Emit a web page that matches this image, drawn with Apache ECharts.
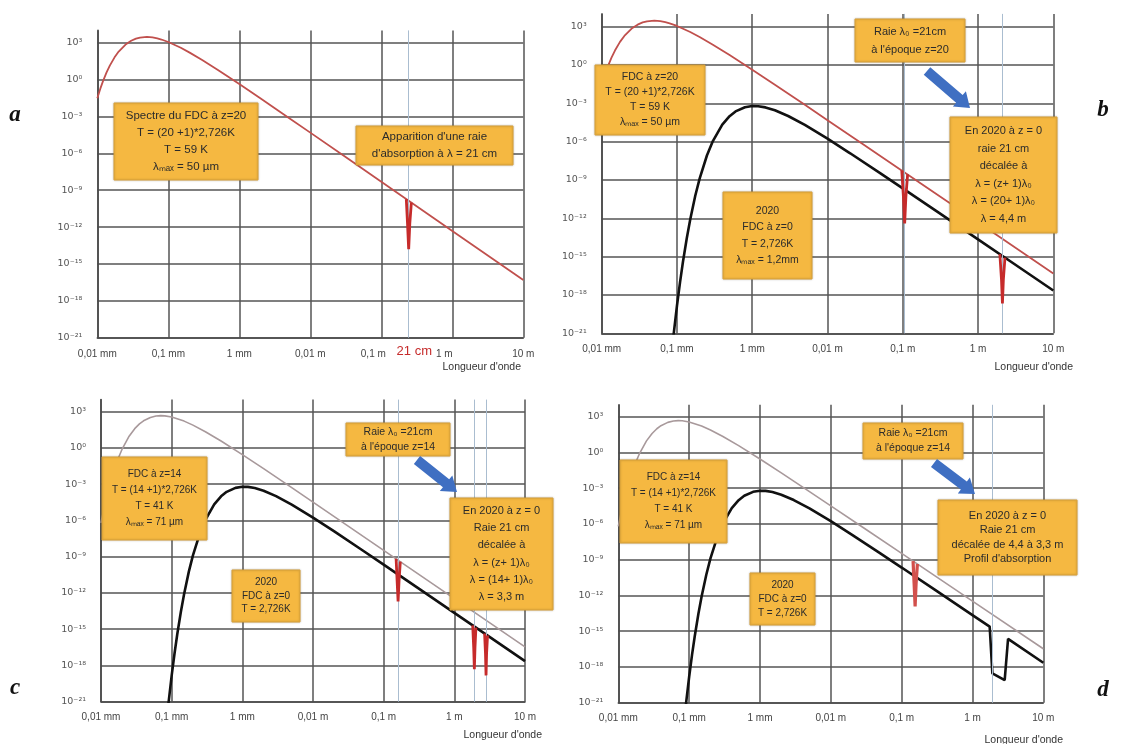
<!DOCTYPE html>
<html>
<head>
<meta charset="utf-8">
<script src="https://cdn.jsdelivr.net/npm/echarts@6/dist/echarts.min.js"></script>
<style>html,body{margin:0;padding:0;background:#fff}#chart{width:1129px;height:744px}</style>
</head>
<body>
<div id="chart"></div>
<script>
// ---------- DATA (wavelength in m, spectral radiance) ----------
const xTickLabels = ['0,01 mm', '0,1 mm', '1 mm', '0,01 m', '0,1 m', '1 m', '10 m']; // 10^-5 .. 10^1 m
const yTickLabels = ['10⁻²¹', '10⁻¹⁸', '10⁻¹⁵', '10⁻¹²', '10⁻⁹', '10⁻⁶', '10⁻³', '10⁰', '10³']; // every 3 decades

// FDC at z=20 (T = 59 K)
const lambdaZ20 = [1e-5, 1.1e-5, 1.2e-5, 1.35e-5, 1.5e-5, 1.75e-5, 2e-5, 2.5e-5, 3e-5, 3.5e-5, 4e-5, 5e-5, 6e-5, 7e-5, 8e-5, 1e-4, 1.5e-4, 2e-4, 3e-4, 5e-4, 1e-3, 2e-3, 5e-3, 1e-2, 3e-2, 0.1, 1, 10];
const fdcZ20 = [0.0305, 0.174, 0.714, 3.79, 13.6, 64.4, 189, 708, 1445, 2143, 2624, 2924, 2673, 2244, 1811, 1140, 384, 156, 39.1, 6.07, 0.431, 0.0287, 7.62e-4, 4.83e-5, 6.0e-7, 4.88e-9, 4.89e-13, 4.89e-17];

// FDC at z=14 (T = 41 K)
const lambdaZ14 = [1e-5, 1.1e-5, 1.2e-5, 1.35e-5, 1.5e-5, 1.75e-5, 2e-5, 2.5e-5, 3e-5, 3.5e-5, 4e-5, 5e-5, 6e-5, 7e-5, 8e-5, 1e-4, 1.5e-4, 2e-4, 3e-4, 5e-4, 1e-3, 2e-3, 5e-3, 1e-2, 3e-2, 0.1, 1, 10];
const fdcZ14 = [6.24e-7, 9.48e-6, 8.83e-5, 1.27e-3, 0.0102, 0.135, 0.851, 9.40, 39.4, 97.7, 176, 335, 436, 468, 453, 364, 166, 77.4, 22.0, 3.73, 0.282, 0.0194, 5.22e-4, 3.33e-5, 4.15e-7, 3.38e-9, 3.39e-13, 3.39e-17];

// FDC today z=0 (T = 2,726 K)
const lambdaZ0 = [9e-5, 1e-4, 1.1e-4, 1.2e-4, 1.35e-4, 1.5e-4, 1.75e-4, 2e-4, 2.5e-4, 3e-4, 4e-4, 5e-4, 6e-4, 8e-4, 1e-3, 1.2e-3, 1.5e-3, 2e-3, 3e-3, 5e-3, 1e-2, 2e-2, 5e-2, 0.1, 0.3, 1, 3, 10];
const fdcZ0 = [6.85e-22, 1.43e-19, 1.07e-17, 3.78e-16, 2.79e-14, 8.22e-13, 5.79e-11, 1.29e-9, 8.26e-8, 1.12e-6, 2.16e-5, 9.93e-5, 2.32e-4, 4.97e-4, 6.11e-4, 5.96e-4, 4.80e-4, 2.86e-4, 1.02e-4, 2.03e-5, 1.71e-6, 1.23e-7, 3.42e-9, 2.20e-10, 2.76e-12, 2.25e-14, 2.78e-16, 2.25e-18];

// FDC today with the absorption profile (panel d)
const lambdaZ0Profile = [9e-5, 1e-4, 1.1e-4, 1.2e-4, 1.35e-4, 1.5e-4, 1.75e-4, 2e-4, 2.5e-4, 3e-4, 4e-4, 5e-4, 6e-4, 8e-4, 1e-3, 1.2e-3, 1.5e-3, 2e-3, 3e-3, 5e-3, 1e-2, 2e-2, 5e-2, 0.1, 0.3, 1, 1.75, 1.91, 2.85, 3.18, 10];
const fdcZ0Profile = [6.85e-22, 1.43e-19, 1.07e-17, 3.78e-16, 2.79e-14, 8.22e-13, 5.79e-11, 1.29e-9, 8.26e-8, 1.12e-6, 2.16e-5, 9.93e-5, 2.32e-4, 4.97e-4, 6.11e-4, 5.96e-4, 4.80e-4, 2.86e-4, 1.02e-4, 2.03e-5, 1.71e-6, 1.23e-7, 3.42e-9, 2.20e-10, 2.76e-12, 2.25e-14, 2.40e-15, 2.9e-19, 7.9e-20, 2.24e-16, 2.25e-18];

// absorption lines [wavelength, radiance]
const dipA = [[0.225, 1.9e-10], [0.234, 2e-12], [0.243, 1.6e-14], [0.252, 2e-12], [0.265, 9.9e-11]];
const dipB1 = [[0.097, 5.5e-9], [0.102, 5e-11], [0.106, 4e-13], [0.110, 5e-11], [0.116, 2.7e-9]];
const dipB2 = [[1.95, 1.56e-15], [2.05, 1.6e-17], [2.11, 2.2e-19], [2.17, 1.6e-17], [2.28, 8.3e-16]];
const dipC1 = [[0.15, 6.7e-10], [0.155, 1e-11], [0.16, 2e-13], [0.165, 1e-11], [0.172, 3.9e-10]];
const dipC2 = [[1.82, 2.06e-15], [1.88, 3e-17], [1.92, 5e-19], [1.96, 3e-17], [2.02, 1.35e-15]];
const dipC3 = [[2.68, 4.37e-16], [2.76, 1e-17], [2.81, 1.5e-19], [2.86, 1e-17], [2.95, 2.98e-16]];
const dipD1 = [[0.145, 7.66e-10], [0.15, 1e-11], [0.155, 1.2e-13], [0.16, 1e-11], [0.167, 4.35e-10]];
const line21cm = 0.24;
const guidesB = [0.105, 2.11];
const guidesC = [0.16, 1.92, 2.81];
const guidesD = [1.92];

// ---------- BUILD ----------
const lg = Math.log10;
const curve = (ls, vs) => ls.map((l, i) => [lg(l), lg(vs[i])]);
const pairs = (p) => p.map(d => [lg(d[0]), lg(d[1])]);

const grids = [
  {left: 97.3, top: 30.4, width: 426, height: 307.3},
  {left: 601.7, top: 13.9, width: 451.6, height: 319.4},
  {left: 101, top: 399.6, width: 424, height: 302.1},
  {left: 618.3, top: 404.8, width: 425, height: 297.9}
];
const gridColor = '#555';
const xLabelRich = {
  n: {fontSize: 10, color: '#444', fontFamily: 'Liberation Sans'},
  l: {fontSize: 10, color: '#444', fontFamily: 'Liberation Sans', padding: [0, 16, 0, 0]}
};
const xAxes = grids.map((g, i) => ({
  type: 'value', gridIndex: i, min: -5, max: 1, interval: 1,
  axisLine: {show: true, onZero: false, lineStyle: {color: '#4a4a4a', width: 1.6}},
  axisTick: {show: false},
  splitLine: {show: true, lineStyle: {color: gridColor, width: 1.5}},
  axisLabel: {
    fontSize: 10, color: '#444', margin: i === 0 ? 12 : 11, fontFamily: 'Liberation Sans',
    showMinLabel: true, showMaxLabel: true, rich: xLabelRich,
    formatter: v => {
      const r = Math.round(v);
      if (Math.abs(v - r) > 1e-6) return '';
      const t = xTickLabels[r + 5] || '';
      // panel a: labels around the 21 cm mark are pushed aside
      if (i === 0 && (r === -1 || r === 0)) return '{l|' + t + '}';
      return '{n|' + t + '}';
    }
  }
}));
const yColors = [gridColor, gridColor, gridColor, gridColor, gridColor, gridColor, gridColor, gridColor, gridColor, 'rgba(0,0,0,0)'];
const yAxes = grids.map((g, i) => ({
  type: 'value', gridIndex: i, min: -21, max: 4, interval: 3,
  axisLine: {show: true, onZero: false, lineStyle: {color: '#4a4a4a', width: 1.6}},
  axisTick: {show: false},
  splitLine: {show: true, showMaxLine: false, lineStyle: {color: yColors, width: 1.5}},
  axisLabel: {
    fontSize: 9.5, color: '#555', margin: 15, fontFamily: 'DejaVu Sans',
    formatter: v => { if (v > 3.5) return ''; const k = (v + 21) / 3; return Math.abs(k - Math.round(k)) < 1e-6 ? (yTickLabels[Math.round(k)] || '') : ''; }
  }
}));

const RED = '#C0504D', GRAY = '#A8999B', BLACK = '#111', DIP = '#C62B2B', GUIDE = '#aabdd0';
function lineSeries(i, data, color, width, z, extra) {
  return Object.assign({
    type: 'line', xAxisIndex: i, yAxisIndex: i, data: data, showSymbol: false, symbol: 'none',
    smooth: false, silent: true, z: z, animation: false,
    lineStyle: {color: color, width: width}
  }, extra || {});
}
function guides(vals) {
  return {
    silent: true, symbol: ['none', 'none'], animation: false,
    lineStyle: {color: GUIDE, width: 1, type: 'solid'},
    label: {show: false},
    data: vals.map(v => ({xAxis: lg(v)}))
  };
}
const mlA = guides([line21cm]);
mlA.label = {show: true, position: 'start', formatter: '21 cm', color: '#C62B2B', fontSize: 13, distance: 7,
             padding: [0, 0, 0, 12], fontFamily: 'Liberation Sans'};

const series = [
  // panel a
  lineSeries(0, curve(lambdaZ20, fdcZ20), RED, 1.8, 3, {markLine: mlA}),
  lineSeries(0, pairs(dipA), DIP, 2.8, 5),
  // panel b
  lineSeries(1, curve(lambdaZ20, fdcZ20), RED, 1.8, 3, {markLine: guides(guidesB)}),
  lineSeries(1, curve(lambdaZ0, fdcZ0), BLACK, 2.6, 4),
  lineSeries(1, pairs(dipB1), DIP, 2.8, 5),
  lineSeries(1, pairs(dipB2), DIP, 2.8, 5),
  // panel c
  lineSeries(2, curve(lambdaZ14, fdcZ14), GRAY, 1.6, 3, {markLine: guides(guidesC)}),
  lineSeries(2, curve(lambdaZ0, fdcZ0), BLACK, 2.6, 4),
  lineSeries(2, pairs(dipC1), DIP, 2.8, 5),
  lineSeries(2, pairs(dipC2), DIP, 2.8, 5),
  lineSeries(2, pairs(dipC3), DIP, 2.8, 5),
  // panel d
  lineSeries(3, curve(lambdaZ14, fdcZ14), GRAY, 1.6, 3, {markLine: guides(guidesD)}),
  lineSeries(3, curve(lambdaZ0Profile, fdcZ0Profile), BLACK, 2.6, 4),
  lineSeries(3, pairs(dipD1), '#D2504C', 3.2, 5)
];

// ---------- ANNOTATIONS ----------
const BOX_FILL = '#F5B841', BOX_STROKE = '#DDA43A';
function box(x, y, w, h, text, fs, lh) {
  return [
    {type: 'rect', z: 100, shape: {x: x, y: y, width: w, height: h},
     style: {fill: BOX_FILL, stroke: BOX_STROKE, lineWidth: 1, shadowBlur: 2, shadowColor: 'rgba(0,0,0,0.25)'}},
    {type: 'text', z: 101, x: x + w / 2, y: y + h / 2,
     style: {text: text, fill: '#2b2b2b', font: fs + 'px "Liberation Sans"', fontSize: fs, fontFamily: 'Liberation Sans',
             lineHeight: lh, align: 'center', textAlign: 'center', verticalAlign: 'middle', textVerticalAlign: 'middle'}}
  ];
}
function arrow(x1, y1, x2, y2, sw, hw, hl) {
  const dx = x2 - x1, dy = y2 - y1, L = Math.hypot(dx, dy), ux = dx / L, uy = dy / L, nx = -uy, ny = ux;
  const bx = x2 - ux * hl, by = y2 - uy * hl;
  return {type: 'polygon', z: 100, shape: {points: [
    [x1 + nx * sw / 2, y1 + ny * sw / 2], [bx + nx * sw / 2, by + ny * sw / 2], [bx + nx * hw / 2, by + ny * hw / 2],
    [x2, y2], [bx - nx * hw / 2, by - ny * hw / 2], [bx - nx * sw / 2, by - ny * sw / 2], [x1 - nx * sw / 2, y1 - ny * sw / 2]]},
    style: {fill: '#3F6FC2'}};
}
function label(x, y, text, font, color, align) {
  return {type: 'text', z: 101, x: x, y: y,
    style: {text: text, font: font, fill: color || '#222', align: align || 'center', textAlign: align || 'center',
            verticalAlign: 'middle', textVerticalAlign: 'middle'}};
}
const graphics = [].concat(
  box(114, 103, 144, 77, 'Spectre du FDC à z=20\nT = (20 +1)*2,726K\nT = 59 K\nλₘₐₓ = 50 µm', 11.5, 17),
  box(356, 126, 157, 39, "Apparition d'une raie\nd'absorption à λ = 21 cm", 11.5, 17),
  box(595, 65, 110, 70, 'FDC à z=20\nT = (20 +1)*2,726K\nT = 59 K\nλₘₐₓ = 50 µm', 10.5, 15),
  box(855, 19, 110, 43, "Raie λ₀ =21cm\nà l'époque z=20", 11, 18),
  box(723, 192, 89, 87, '2020\nFDC à z=0\nT = 2,726K\nλₘₐₓ = 1,2mm', 10.5, 16.5),
  box(950, 117, 107, 116, 'En 2020 à z = 0\nraie 21 cm\ndécalée à\nλ = (z+ 1)λ₀\nλ = (20+ 1)λ₀\nλ = 4,4 m', 11, 17.5),
  box(102, 457, 105, 83, 'FDC à z=14\nT = (14 +1)*2,726K\nT = 41 K\nλₘₐₓ = 71 µm', 10, 16),
  box(346, 423, 104, 33, "Raie λ₀ =21cm\nà l'époque z=14", 10.5, 15.5),
  box(232, 570, 68, 52, '2020\nFDC à z=0\nT = 2,726K', 10, 13.5),
  box(450, 498, 103, 112, 'En 2020 à z = 0\nRaie 21 cm\ndécalée à\nλ = (z+ 1)λ₀\nλ = (14+ 1)λ₀\nλ = 3,3 m', 11, 17.3),
  box(620, 460, 107, 83, 'FDC à z=14\nT = (14 +1)*2,726K\nT = 41 K\nλₘₐₓ = 71 µm', 10, 16),
  box(863, 423, 100, 36, "Raie λ₀ =21cm\nà l'époque z=14", 10.5, 15),
  box(750, 573, 65, 52, '2020\nFDC à z=0\nT = 2,726K', 10, 14),
  box(938, 500, 139, 75, 'En 2020 à z = 0\nRaie 21 cm\ndécalée de 4,4 à 3,3 m\nProfil d\'absorption', 11, 14.5),
  [arrow(927, 71, 970, 108, 10, 20, 14), arrow(417, 460, 457, 492, 10, 20, 14), arrow(934, 463, 975, 494, 10, 20, 14)],
  [
    label(15, 115, 'a', 'italic bold 23px "Liberation Serif"', '#111'),
    label(1103, 110, 'b', 'italic bold 23px "Liberation Serif"', '#111'),
    label(15, 688, 'c', 'italic bold 23px "Liberation Serif"', '#111'),
    label(1103, 690, 'd', 'italic bold 23px "Liberation Serif"', '#111'),
    label(521, 367, "Longueur d'onde", '10.5px "Liberation Sans"', '#333', 'right'),
    label(1073, 367, "Longueur d'onde", '10.5px "Liberation Sans"', '#333', 'right'),
    label(542, 735, "Longueur d'onde", '10.5px "Liberation Sans"', '#333', 'right'),
    label(1063, 740, "Longueur d'onde", '10.5px "Liberation Sans"', '#333', 'right')
  ]
);

const chart = echarts.init(document.getElementById('chart'), null, {renderer: 'canvas'});
chart.setOption({
  backgroundColor: '#fff',
  animation: false,
  grid: grids,
  xAxis: xAxes,
  yAxis: yAxes,
  series: series,
  graphic: {elements: graphics}
});
</script>
</body>
</html>
